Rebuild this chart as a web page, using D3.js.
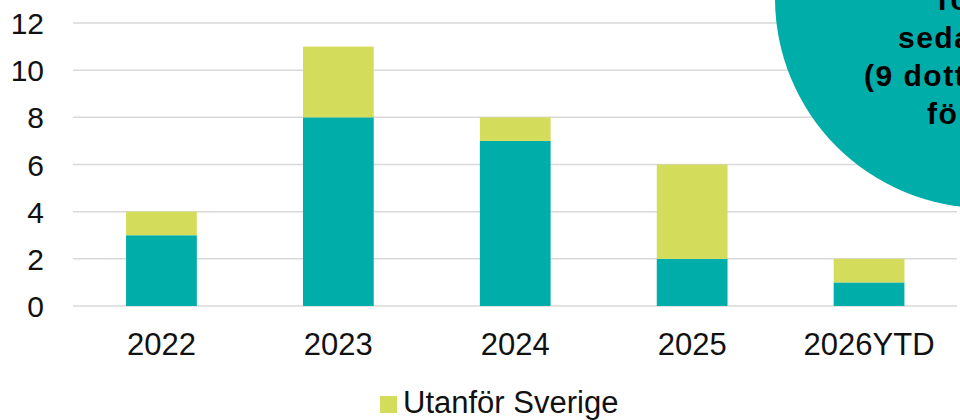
<!DOCTYPE html>
<html>
<head>
<meta charset="utf-8">
<script src="https://cdn.jsdelivr.net/npm/d3@7"></script>
<style>
  body { margin: 0; background: #fff; }
  svg { display: block; font-family: "Liberation Sans", Arial, Helvetica, sans-serif; }
</style>
</head>
<body>
<div id="chart"></div>
<script>
// data
const years = ["2022", "2023", "2024", "2025", "2026YTD"];
const sverige = [3, 8, 7, 2, 1];
const utanfor = [1, 3, 1, 4, 1];
const yTicks = [0, 2, 4, 6, 8, 10, 12];
const legendLabels = ["Utanför Sverige"];
const bubbleLines = ["Totalt 31", "sedan 2022", "(9 dotterbolag)", "förvärvade"];

const colors = {
  sverige: "#00ADA9",
  utanfor: "#D4DC5C"
};

const width = 960, height = 420;
const margin = { top: 23, right: 3, bottom: 114, left: 73 };

const svg = d3.select("#chart")
  .append("svg")
  .attr("width", width)
  .attr("height", height);

const xScale = d3.scaleBand()
  .domain(years)
  .range([margin.left, width - margin.right + 0.5])
  .paddingInner(0.6)
  .paddingOuter(0.3);

const yScale = d3.scaleLinear()
  .domain([0, 12])
  .range([height - margin.bottom, margin.top]);

// gridlines
svg.append("g")
  .selectAll("line")
  .data(yTicks)
  .join("line")
  .attr("x1", margin.left)
  .attr("x2", width - margin.right)
  .attr("y1", d => yScale(d))
  .attr("y2", d => yScale(d))
  .attr("stroke", "#d9d9d9")
  .attr("stroke-width", 1.5);

// y axis labels
const yAxis = svg.append("g")
  .attr("transform", `translate(${margin.left},0)`)
  .call(d3.axisLeft(yScale).tickValues(yTicks).tickSize(0).tickPadding(29));
yAxis.select(".domain").remove();
yAxis.selectAll("text")
  .attr("dy", "0.35em")
  .style("font-size", "30px")
  .style("fill", "#111");

// stacked bars
const rows = years.map((y, i) => ({ year: y, sverige: sverige[i], utanfor: utanfor[i] }));
const series = d3.stack().keys(["sverige", "utanfor"])(rows);

svg.append("g")
  .selectAll("g")
  .data(series)
  .join("g")
  .attr("fill", d => colors[d.key])
  .selectAll("rect")
  .data(d => d)
  .join("rect")
  .attr("x", d => xScale(d.data.year))
  .attr("width", xScale.bandwidth())
  .attr("y", d => yScale(d[1]))
  .attr("height", d => yScale(d[0]) - yScale(d[1]));

// x axis labels
const xAxis = svg.append("g")
  .attr("transform", `translate(0,${yScale(0)})`)
  .call(d3.axisBottom(xScale).tickSize(0).tickPadding(27));
xAxis.select(".domain").remove();
xAxis.selectAll("text")
  .style("font-size", "31px")
  .style("fill", "#111");

// legend (only the visible entry)
const legend = svg.append("g").attr("transform", "translate(380,396)");
legend.append("rect")
  .attr("width", 17)
  .attr("height", 17)
  .attr("fill", colors.utanfor);
legend.append("text")
  .attr("x", 23)
  .attr("y", 17)
  .style("font-size", "31px")
  .style("fill", "#111")
  .text(legendLabels[0]);

// callout bubble, cut by the right edge
svg.append("circle")
  .attr("cx", 985)
  .attr("cy", -2)
  .attr("r", 210)
  .attr("fill", colors.sverige);

const lineStarts = [933, 898, 864, 927];
svg.append("g")
  .selectAll("text")
  .data(bubbleLines)
  .join("text")
  .attr("x", (d, i) => lineStarts[i])
  .attr("y", (d, i) => 10 + i * 38)
  .style("font-size", "30px")
  .style("font-weight", "bold")
  .style("letter-spacing", "1.5px")
  .style("fill", "#000")
  .text(d => d);
</script>
</body>
</html>
